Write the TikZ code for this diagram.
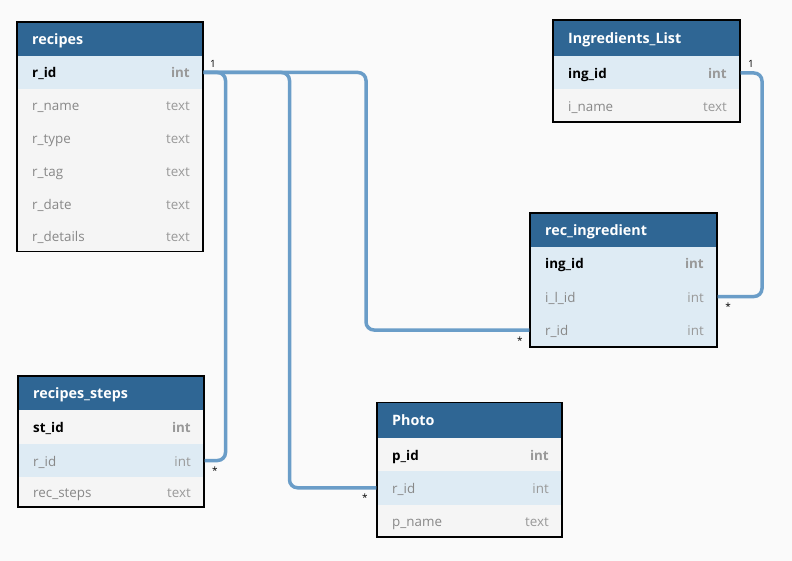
\documentclass[tikz,border=0pt]{standalone}
\usepackage{fontspec}
\setmainfont{Open Sans}
\definecolor{bgcol}{HTML}{FAFAFA}
\definecolor{headcol}{HTML}{2F6694}
\definecolor{hlrow}{HTML}{DEEBF4}
\definecolor{plainrow}{HTML}{F5F5F5}
\definecolor{relcol}{HTML}{6A9DC8}
\definecolor{fieldgray}{HTML}{888888}
\definecolor{typegray}{HTML}{999999}
\tikzset{
  headbox/.style={fill=headcol, draw=none, inner sep=0pt, outer sep=0pt, minimum height=#1},
  rowbox/.style={draw=none, inner sep=0pt, outer sep=0pt},
  headtxt/.style={text=white, font=\fontsize{14.3}{16}\selectfont\bfseries, inner sep=0pt},
  fieldtxt/.style={text=fieldgray, font=\fontsize{13.4}{15}\selectfont, inner sep=0pt},
  typetxt/.style={text=typegray, font=\fontsize{13.4}{15}\selectfont, inner sep=0pt},
  tblborder/.style={draw=black, line width=1.3pt},
  rel/.style={draw=relcol, line width=3.5pt, rounded corners=8pt},
  card/.style={font=\fontsize{10}{11}\selectfont, text=black, inner sep=0pt}
}
\newcommand\tblhead[6]{%
  \node[headbox=#5, minimum width=#4, anchor=north west] (#1) at (#2,#3) {};
  \node[headtxt, anchor=base west] (#1-title) at ([xshift=15pt,yshift=-5.5pt]#1.west) {#6};
}
\newcommand\trow[8]{%
  \node[rowbox, fill=#6, minimum width=#4, minimum height=#5, anchor=north west] (#1) at (#2,#3) {};
  \node[fieldtxt, anchor=base west] (#1-f) at ([xshift=15pt,yshift=-5.5pt]#1.west) {#7};
  \node[typetxt, anchor=base east] (#1-t) at ([xshift=-13pt,yshift=-5.5pt]#1.east) {#8};
}
\newcommand\pkf[1]{\textbf{\textcolor{black}{#1}}}
\newcommand\pkt[1]{\textbf{#1}}
\begin{document}
\begin{tikzpicture}[x=1pt,y=-1pt]
\fill[bgcol] (0,0) rectangle (792,561);
\useasboundingbox (0,0) rectangle (792,561);

% recipes
\tblhead{rec}{17}{22}{186pt}{34pt}{recipes}
\trow{rec-rid}{17}{56}{186pt}{33pt}{hlrow}{\pkf{r\_id}}{\pkt{int}}
\trow{rec-rname}{17}{89}{186pt}{33pt}{plainrow}{r\_name}{text}
\trow{rec-rtype}{17}{122}{186pt}{33pt}{plainrow}{r\_type}{text}
\trow{rec-rtag}{17}{155}{186pt}{33pt}{plainrow}{r\_tag}{text}
\trow{rec-rdate}{17}{188}{186pt}{33pt}{plainrow}{r\_date}{text}
\trow{rec-rdetails}{17}{221}{186pt}{30.5pt}{plainrow}{r\_details}{text}
\draw[tblborder] (rec.north west) rectangle (rec-rdetails.south east);

% Ingredients_List
\tblhead{ing}{553}{20}{187pt}{36.5pt}{Ingredients\_List}
\trow{ing-id}{553}{56.5}{187pt}{33pt}{hlrow}{\pkf{ing\_id}}{\pkt{int}}
\trow{ing-name}{553}{89.5}{187pt}{32.5pt}{plainrow}{i\_name}{text}
\draw[tblborder] (ing.north west) rectangle (ing-name.south east);

% rec_ingredient
\tblhead{ri}{530}{213}{187pt}{34pt}{rec\_ingredient}
\trow{ri-ingid}{530}{247}{187pt}{33pt}{hlrow}{\pkf{ing\_id}}{\pkt{int}}
\trow{ri-ilid}{530}{280}{187pt}{33pt}{hlrow}{i\_l\_id}{int}
\trow{ri-rid}{530}{313}{187pt}{34pt}{hlrow}{r\_id}{int}
\draw[tblborder] (ri.north west) rectangle (ri-rid.south east);

% recipes_steps
\tblhead{st}{18}{376}{186pt}{34pt}{recipes\_steps}
\trow{st-id}{18}{410}{186pt}{34pt}{plainrow}{\pkf{st\_id}}{\pkt{int}}
\trow{st-rid}{18}{444}{186pt}{33pt}{hlrow}{r\_id}{int}
\trow{st-steps}{18}{477}{186pt}{30pt}{plainrow}{rec\_steps}{text}
\draw[tblborder] (st.north west) rectangle (st-steps.south east);

% Photo
\tblhead{ph}{377}{402.5}{185pt}{35.5pt}{Photo}
\trow{ph-id}{377}{438}{185pt}{33pt}{plainrow}{\pkf{p\_id}}{\pkt{int}}
\trow{ph-rid}{377}{471}{185pt}{33.5pt}{hlrow}{r\_id}{int}
\trow{ph-name}{377}{504.5}{185pt}{32.5pt}{plainrow}{p\_name}{text}
\draw[tblborder] (ph.north west) rectangle (ph-name.south east);

% junction columns
\coordinate (j1) at (225.5,0);
\coordinate (j2) at (289.5,0);
\coordinate (j3) at (366,0);
\coordinate (j4) at (762,0);

% relations
\draw[rel] ([xshift=0.7pt]rec-rid.east) -- (rec-rid.east -| j3) |- ([xshift=-0.7pt]ri-rid.west);
\draw[rel] ([xshift=0.7pt]rec-rid.east) -- (rec-rid.east -| j2) |- ([xshift=-0.7pt]ph-rid.west);
\draw[rel] ([xshift=0.7pt]rec-rid.east) -- (rec-rid.east -| j1) |- ([xshift=0.7pt]st-rid.east);
\draw[rel] ([xshift=0.7pt]ing-id.east) -- (ing-id.east -| j4) |- ([xshift=0.7pt]ri-ilid.east);

% cardinalities
\node[card] (c-rec) at (213,64) {1};
\node[card] (c-ing) at (751,64) {1};
\node[card] (c-st) at (215,471) {*};
\node[card] (c-ph) at (365,498) {*};
\node[card] (c-ri) at (520,341) {*};
\node[card] (c-ril) at (728,307) {*};
\end{tikzpicture}
\end{document}
